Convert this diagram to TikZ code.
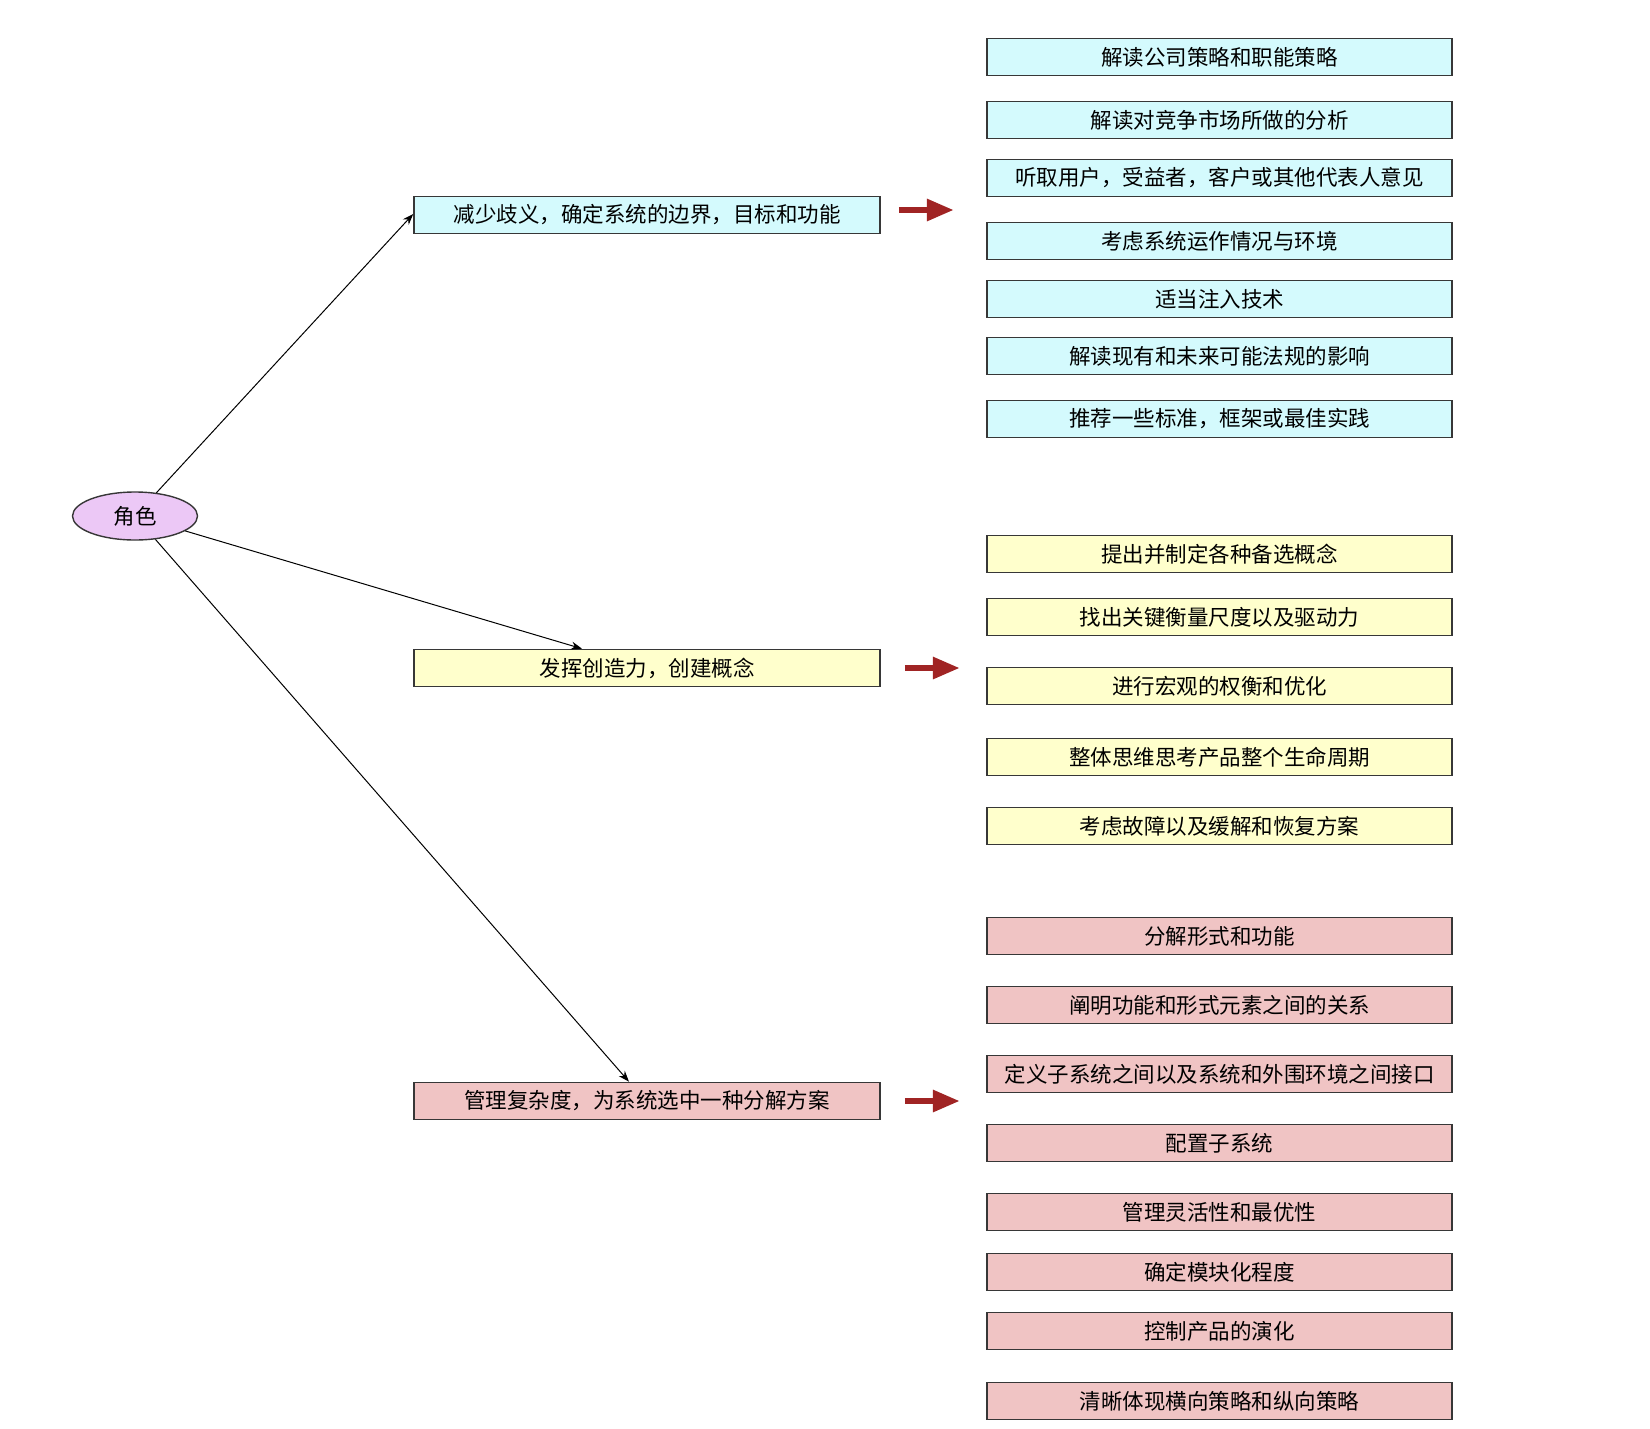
\documentclass[tikz,border=0pt]{standalone}
\usepackage{fontspec}
\setmainfont{Noto Sans CJK SC}
\usetikzlibrary{arrows.meta,calc,shapes.geometric}
\definecolor{bluefill}{RGB}{212,250,253}
\definecolor{yellowfill}{RGB}{255,255,204}
\definecolor{pinkfill}{RGB}{240,196,196}
\definecolor{rolefill}{RGB}{236,200,246}
\definecolor{borderc}{RGB}{55,55,55}
\definecolor{redarr}{RGB}{160,36,36}
\tikzset{
  box/.style={draw=borderc, line width=1.6pt, rectangle, minimum height=37pt, inner sep=0pt,
    font=\fontsize{21.5}{24}\selectfont, text=black},
  midbox/.style={box, minimum width=466pt},
  rbox/.style={box, minimum width=465pt},
  blue/.style={fill=bluefill},
  yel/.style={fill=yellowfill},
  pink/.style={fill=pinkfill},
  rolenode/.style={draw=borderc, line width=1.4pt, ellipse, fill=rolefill, minimum width=125pt,
    minimum height=48pt, inner sep=0pt, font=\fontsize{21.5}{24}\selectfont},
  link/.style={draw=black, line width=1pt, -{Stealth[length=11pt,width=8pt]}},
  bigarrow/.style={draw=redarr, line width=6pt, -{Triangle[length=27pt,width=21pt]}, shorten >=0pt}
}
\begin{document}
\begin{tikzpicture}[x=1pt,y=-1pt]
\useasboundingbox (0,0) rectangle (1650,1428);
\fill[white] (0,0) rectangle (1650,1428);

% role
\node[rolenode] (role) at (135,516) {角色};

% middle boxes
\node[midbox, blue] (m1) at (647,215) {减少歧义，确定系统的边界，目标和功能};
\node[midbox, yel]  (m2) at (647,668) {发挥创造力，创建概念};
\node[midbox, pink] (m3) at (647,1101) {管理复杂度，为系统选中一种分解方案};

% connectors
\draw[link] (role) -- ($(m1.west)+(0,-1)$);
\draw[link] (role) -- ($(m2.north)+(-65,0)$);
\draw[link] (role) -- ($(m3.north)+(-18,0)$);

% red arrows
\draw[bigarrow] ($(m1.east)+(18,-5)$) -- ++(55,0);
\draw[bigarrow] ($(m2.east)+(24,0)$) -- ++(55,0);
\draw[bigarrow] ($(m3.east)+(24,0)$) -- ++(55,0);

% blue column
\node[rbox, blue] (a1) at (1219.5,57) {解读公司策略和职能策略};
\node[rbox, blue] (a2) at (1219.5,120) {解读对竞争市场所做的分析};
\node[rbox, blue] (a3) at (1219.5,178) {听取用户，受益者，客户或其他代表人意见};
\node[rbox, blue] (a4) at (1219.5,241) {考虑系统运作情况与环境};
\node[rbox, blue] (a5) at (1219.5,299) {适当注入技术};
\node[rbox, blue] (a6) at (1219.5,356) {解读现有和未来可能法规的影响};
\node[rbox, blue] (a7) at (1219.5,419) {推荐一些标准，框架或最佳实践};

% yellow column
\node[rbox, yel] (b1) at (1219.5,554) {提出并制定各种备选概念};
\node[rbox, yel] (b2) at (1219.5,617) {找出关键衡量尺度以及驱动力};
\node[rbox, yel] (b3) at (1219.5,686) {进行宏观的权衡和优化};
\node[rbox, yel] (b4) at (1219.5,757) {整体思维思考产品整个生命周期};
\node[rbox, yel] (b5) at (1219.5,826) {考虑故障以及缓解和恢复方案};

% pink column
\node[rbox, pink] (c1) at (1219.5,936) {分解形式和功能};
\node[rbox, pink] (c2) at (1219.5,1005) {阐明功能和形式元素之间的关系};
\node[rbox, pink] (c3) at (1219.5,1074) {定义子系统之间以及系统和外围环境之间接口};
\node[rbox, pink] (c4) at (1219.5,1143) {配置子系统};
\node[rbox, pink] (c5) at (1219.5,1212) {管理灵活性和最优性};
\node[rbox, pink] (c6) at (1219.5,1272) {确定模块化程度};
\node[rbox, pink] (c7) at (1219.5,1331) {控制产品的演化};
\node[rbox, pink] (c8) at (1219.5,1401) {清晰体现横向策略和纵向策略};
\end{tikzpicture}
\end{document}
